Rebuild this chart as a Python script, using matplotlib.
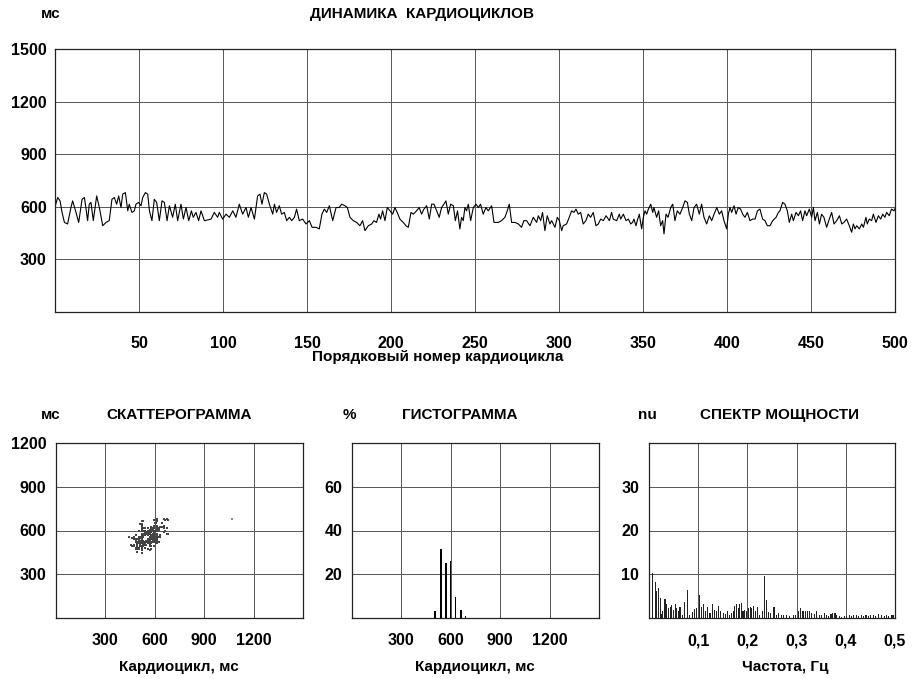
import matplotlib
matplotlib.use('Agg')
import matplotlib.pyplot as plt
import numpy as np

plt.rcParams['font.family'] = ['Liberation Sans', 'DejaVu Sans']
plt.rcParams['font.weight'] = 'bold'

# ---- Dynamics of cardiocycles (beat number, RR interval in ms) ----
beat = [0, 1.6, 3.0, 4.2, 5.6, 7.5, 9.5, 10.5, 12.5, 14.1, 16.1, 17.5, 18.5, 19.4, 20.4, 21.4, 22.8, 24.8, 26.4, 28.4,
        30.4, 32.3, 33.9, 35.3, 36.7, 37.9, 39.3, 40.3, 41.9, 43.3, 44.2, 45.8, 47.2, 48.2, 49.8, 51.2, 52.2, 53.8, 55.2, 56.2,
        57.7, 59.1, 60.5, 62.1, 63.7, 65.1, 66.7, 68.1, 70.0, 71.6, 73.0, 75.0, 76.4, 78.0, 79.6, 81.2, 82.3, 83.9, 85.5, 86.9,
        88.9, 90.9, 92.9, 94.8, 96.8, 97.8, 99.8, 101.8, 103.8, 105.8, 107.7, 109.7, 111.7, 113.7, 115.1, 116.7, 118.7, 120.6, 122.0, 123.2,
        124.6, 126.0, 127.6, 129.6, 130.6, 131.9, 133.5, 134.9, 136.5, 137.9, 139.5, 140.9, 142.5, 143.8, 145.4, 147.4, 149.4, 151.4, 153.0, 155.4,
        157.3, 158.9, 160.3, 161.7, 163.3, 165.3, 167.3, 169.2,
        170.6, 172.6, 174.0, 175.6, 177.5, 179.5, 181.5, 183.1, 184.5, 186.5, 188.5, 189.8, 191.4, 192.8, 193.8, 195.0, 196.4, 197.8, 199.4, 201.0,
        202.3, 203.7, 205.3, 207.3, 208.9, 210.3, 211.9, 213.3, 215.2, 216.8, 218.2, 219.6, 221.2, 222.8, 224.2, 225.6, 227.2, 228.7, 230.1, 231.5,
        232.7, 234.1, 235.5, 237.1, 238.3, 239.6, 241.0, 242.0, 243.0, 244.0, 245.0, 246.0, 247.4, 249.0, 250.6, 252.0, 253.3, 254.9, 256.5, 257.9,
        259.9, 261.3, 263.9, 265.8, 267.8, 269.2, 270.4, 271.8, 273.8, 275.8, 277.7, 279.1, 280.7, 282.7, 284.7, 286.7, 287.7, 289.1, 290.2, 291.6,
        293.0, 294.6, 295.6, 297.6, 299.0, 300.2, 301.6, 302.5, 304.5, 306.1, 307.5, 308.9, 310.1, 311.5, 312.9, 314.4, 316.0, 317.4, 318.8, 320.4,
        322.0, 323.4,
        324.8, 326.4, 328.0, 330.0, 331.3, 332.3, 334.3, 335.9, 336.7, 338.3, 339.9, 341.3, 342.7, 343.8, 344.6, 345.8, 346.6, 347.8, 349.2, 350.2,
        351.2, 352.2, 353.2, 354.6, 355.8, 356.5, 358.1, 359.3, 360.5, 361.7, 362.5, 363.7, 364.9, 366.5, 367.7, 369.0, 370.4, 372.0, 373.6, 375.0,
        376.4, 377.6, 379.0, 380.4, 381.9, 383.5, 384.9, 386.3, 387.9, 389.5, 390.9, 392.3, 393.9, 395.4, 396.8, 398.2, 399.8, 400.8, 401.8, 402.8,
        404.2, 405.4, 406.7, 408.1, 409.3, 410.7, 412.1, 413.7, 415.3, 416.7, 418.1, 419.6, 421.2, 422.6, 424.0, 425.6, 427.2, 429.2, 430.6, 431.5,
        433.1, 434.5, 435.9, 437.1, 438.5, 439.5, 441.1, 442.5, 443.8, 445.0, 446.4, 447.4, 449.0, 450.4, 451.4, 452.4, 453.8, 455.0, 456.3, 457.7,
        459.3, 460.9, 462.3, 463.7, 465.3, 466.9, 468.3, 469.6, 471.2, 472.8, 474.2, 475.2, 476.2, 477.2, 478.8, 480.2, 481.2, 482.7, 483.5, 484.7,
        486.1, 487.1, 488.7, 490.1, 491.5, 492.7, 494.0, 495.0, 496.6, 497.9, 499.4, 500.0]
rr_ms = [600, 653, 634, 568, 511, 502, 596, 634, 568, 511, 643, 653, 587, 521, 615, 625, 521, 662, 596, 492,
         511, 521, 643, 653, 615, 662, 596, 672, 681, 577, 615, 568, 577, 615, 625, 606, 653, 681, 672, 577,
         521, 643, 625, 521, 634, 625, 521, 606, 540, 615, 521, 615, 530, 596, 521, 577, 540, 568, 521, 577,
         521, 525, 530, 568, 540, 568, 530, 558, 540, 577, 540, 615, 558, 596, 540, 596, 530, 662, 672, 615,
         681, 672, 615, 558, 615, 568, 606, 558, 568, 521, 540, 521, 540, 587, 521, 530, 502, 521, 483, 483,
         474, 558, 587, 568, 606, 521, 596, 596,
         615, 606, 596, 540, 521, 511, 492, 521, 464, 492, 502, 521, 511, 558, 530, 577, 521, 596, 577, 558,
         596, 568, 530, 511, 492, 483, 568, 558, 577, 596, 558, 587, 606, 530, 615, 615, 577, 540, 596, 615,
         634, 558, 615, 606, 521, 577, 474, 540, 521, 596, 577, 615, 521, 596, 615, 596, 615, 558, 596, 577,
         606, 511, 511, 521, 540, 577, 615, 511, 511, 502, 483, 521, 521, 492, 540, 511, 549, 521, 568, 464,
         549, 502, 521, 483, 540, 521, 464, 492, 502, 540, 577, 568, 587, 558, 568, 502, 521, 558, 540, 568,
         492, 502,
         530, 521, 549, 521, 568, 530, 521, 558, 530, 558, 521, 530, 502, 511, 530, 492, 521, 558, 474, 540,
         577, 558, 587, 615, 568, 596, 540, 577, 492, 521, 445, 558, 540, 596, 615, 521, 577, 558, 596, 634,
         625, 558, 521, 596, 615, 558, 615, 540, 502, 549, 521, 558, 596, 558, 577, 521, 474, 558, 596, 568,
         606, 558, 596, 587, 558, 540, 568, 521, 530, 530, 577, 587, 530, 521, 492, 492, 521, 540, 568, 577,
         625, 615, 577, 511, 558, 521, 568, 549, 577, 521, 577, 549, 587, 540, 596, 521, 568, 502, 558, 540,
         483, 530, 568, 502, 521, 549, 502, 511, 530, 492, 455, 502, 474, 492, 474, 502, 483, 540, 502, 530,
         521, 558, 511, 549, 530, 558, 540, 568, 549, 587, 577, 590]

# ---- Scatterogram outlier point ----
outlier_rr = [1070]
outlier_next = [677]

# ---- Histogram ----
hist_ms = [505, 540, 570, 598, 629, 662, 690]
hist_pct = [3, 31.5, 25, 26, 9.5, 3.5, 1]

# ---- Power spectrum ----
spec_hz = [0.008, 0.013, 0.016, 0.020, 0.023, 0.025, 0.028, 0.0325, 0.036, 0.039, 0.043, 0.046, 0.049, 0.053, 0.056, 0.060,
           0.063, 0.068, 0.073, 0.079, 0.083, 0.088, 0.092, 0.097, 0.103, 0.107, 0.110, 0.115, 0.119, 0.124, 0.129, 0.133,
           0.138, 0.142, 0.146, 0.151, 0.156, 0.160, 0.164, 0.167, 0.171, 0.174, 0.177, 0.181, 0.184, 0.188, 0.191, 0.195,
           0.198, 0.203, 0.206, 0.209, 0.213, 0.216, 0.220, 0.225, 0.230, 0.235, 0.239, 0.243, 0.247, 0.254, 0.259, 0.264,
           0.269, 0.274, 0.279, 0.286, 0.293, 0.297, 0.304, 0.308, 0.313, 0.318, 0.322, 0.327, 0.331, 0.336, 0.341, 0.346,
           0.351, 0.356, 0.360, 0.364, 0.370, 0.373, 0.378, 0.382, 0.387, 0.392, 0.397, 0.402, 0.407, 0.411, 0.416, 0.421,
           0.425, 0.431, 0.436, 0.441, 0.446, 0.451, 0.457, 0.461, 0.466, 0.472, 0.478, 0.482, 0.486, 0.492, 0.496]
spec_nu = [10.4, 8.3, 6.1, 6.9, 4.6, 0.9, 1.5, 4.4, 3.1, 2.3, 2.5, 2.9, 1.9, 3.2, 2.3, 1.5,
           2.5, 0.8, 3.7, 6.3, 0.8, 1.4, 2.1, 2.3, 5.2, 2.5, 3.2, 1.5, 2.5, 1.1, 3.1, 1.9,
           1.5, 2.7, 1.5, 1.1, 0.9, 1.5, 0.8, 1.1, 1.5, 2.7, 3.2, 2.3, 3.1, 3.4, 1.5, 1.9,
           1.7, 2.3, 2.5, 2.3, 2.7, 1.7, 2.5, 0.8, 1.5, 9.6, 4.2, 1.4, 1.1, 2.5, 0.8, 1.1,
           0.8, 0.8, 0.6, 0.4, 0.6, 0.8, 1.5, 2.3, 1.7, 1.7, 1.7, 1.5, 1.1, 0.9, 1.5, 0.8,
           0.8, 1.1, 0.6, 0.4, 0.9, 1.1, 1.1, 0.8, 0.4, 0.2, 0.4, 0.4, 0.8, 0.4, 0.6, 0.6,
           0.4, 0.6, 0.4, 0.6, 0.4, 0.6, 0.8, 0.4, 0.9, 0.6, 0.4, 0.8, 0.4, 0.8, 0.6]

W, H = 917, 679
fig = plt.figure(figsize=(W / 100, H / 100), dpi=100)

TICK_FS = 11.5
TXT_FS = 11


def box(l, t, r, b):
    return [l / W, 1 - b / H, (r - l) / W, (b - t) / H]


def label(x, y, s, **kw):
    fig.text(x / W, 1 - y / H, s, fontsize=TXT_FS, fontweight='bold', ha='center', va='center', **kw)


def style(ax):
    ax.grid(True, color='#555555', linewidth=0.7)
    ax.set_axisbelow(True)
    for s in ax.spines.values():
        s.set_color('#222222')
        s.set_linewidth(0.9)
    ax.tick_params(length=0, labelsize=TICK_FS)
    for lab in ax.get_xticklabels() + ax.get_yticklabels():
        lab.set_fontweight('bold')


# Top: dynamics
ax1 = fig.add_axes(box(55, 49, 895, 312))
ax1.plot(beat, rr_ms, color='black', linewidth=0.8)
ax1.set_xlim(0, 500)
ax1.set_ylim(0, 1500)
ax1.set_xticks(np.arange(50, 501, 50))
ax1.set_yticks([300, 600, 900, 1200, 1500])
ax1.tick_params(axis='x', pad=17)
ax1.tick_params(axis='y', pad=6)
style(ax1)
label(51, 14, 'мс')
label(422, 14, 'ДИНАМИКА  КАРДИОЦИКЛОВ')
label(438, 357, 'Порядковый номер кардиоцикла')

# Scatterogram
ax2 = fig.add_axes(box(56, 443, 303, 618))
ax2.scatter(rr_ms[:-1], rr_ms[1:], s=1.0, marker='s', color='#444444', linewidths=0)
ax2.scatter(outlier_rr, outlier_next, s=0.8, marker='s', color='#888888', linewidths=0)
ax2.set_xlim(0, 1500)
ax2.set_ylim(0, 1200)
ax2.set_xticks([300, 600, 900, 1200])
ax2.set_yticks([300, 600, 900, 1200])
ax2.tick_params(axis='x', pad=11)
ax2.tick_params(axis='y', pad=7)
style(ax2)
label(51, 415, 'мс')
label(179, 415, 'СКАТТЕРОГРАММА')
label(179, 667, 'Кардиоцикл, мс')

# Histogram
ax3 = fig.add_axes(box(352, 443, 599, 618))
ax3.bar(hist_ms, hist_pct, width=10, color='black')
ax3.set_xlim(0, 1500)
ax3.set_ylim(0, 80)
ax3.set_xticks([300, 600, 900, 1200])
ax3.set_yticks([20, 40, 60])
ax3.tick_params(axis='x', pad=11)
ax3.tick_params(axis='y', pad=7)
style(ax3)
label(349, 415, '%')
label(460, 415, 'ГИСТОГРАММА')
label(475, 667, 'Кардиоцикл, мс')

# Power spectrum
ax4 = fig.add_axes(box(649, 443, 895, 618))
ax4.bar(spec_hz, spec_nu, width=0.0022, color='#222222')
ax4.set_xlim(0, 0.5)
ax4.set_ylim(0, 40)
ax4.set_xticks([0.1, 0.2, 0.3, 0.4, 0.5])
ax4.set_xticklabels(['0,1', '0,2', '0,3', '0,4', '0,5'])
ax4.set_yticks([10, 20, 30])
ax4.tick_params(axis='x', pad=11)
ax4.tick_params(axis='y', pad=7)
style(ax4)
label(647, 415, 'nu')
label(779, 415, 'СПЕКТР МОЩНОСТИ')
label(785, 667, 'Частота, Гц')

fig.savefig('out.png', dpi=100)
